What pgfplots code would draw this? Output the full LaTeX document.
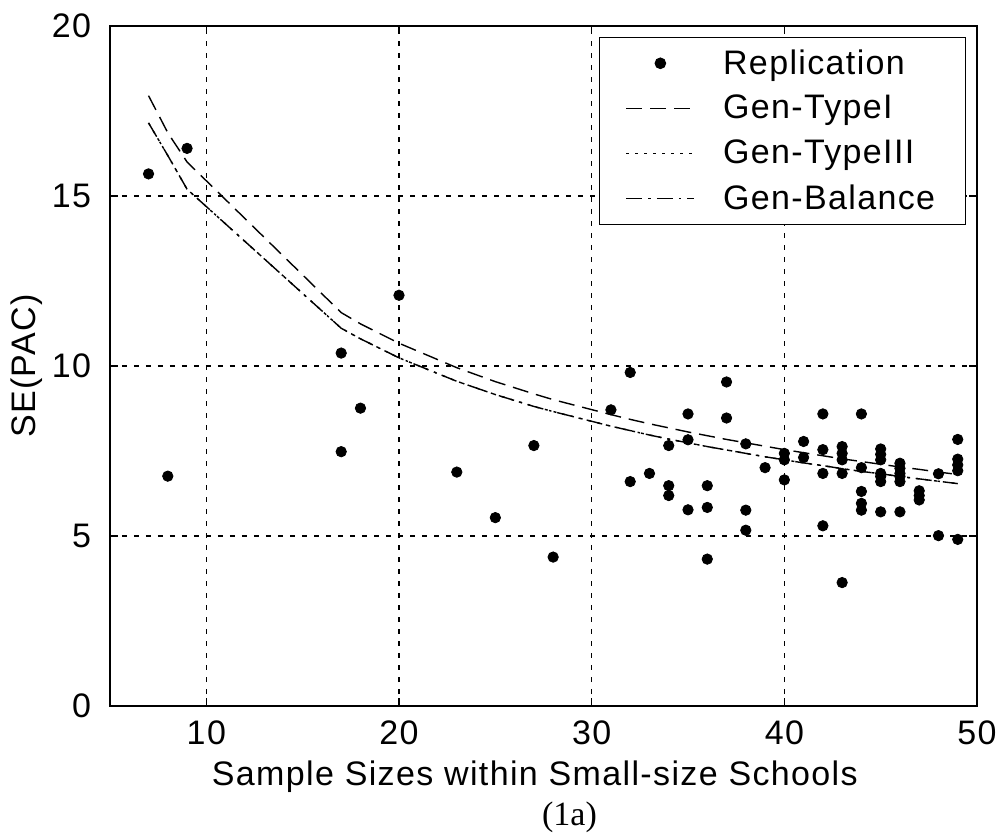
\documentclass[border=0pt]{standalone}
\usepackage{fontspec}
\setmainfont[LetterSpace=4]{Liberation Sans}
\newfontfamily\serifcap{Liberation Serif}
\usepackage{pgfplots}
\pgfplotsset{compat=1.18}
\pgfplotsset{
  dotlegend/.style={legend image code/.code={\draw[##1] plot coordinates {(17pt,0pt)};}},
  linelegend/.style={legend image code/.code={\draw[##1] (0pt,0pt) -- (34pt,0pt);}},
}
\begin{document}
\begin{tikzpicture}
\path[use as bounding box] (-55pt,-64pt) rectangle (445pt,353pt);
\begin{axis}[
  scale only axis,
  width=433.5pt, height=340pt,
  xmin=5, xmax=50, ymin=0, ymax=20,
  xtick={10,20,30,40,50}, ytick={0,5,10,15,20},
  clip mode=individual,
  /pgf/number format/assume math mode=true,
  tick label style={font=\fontsize{17}{20}\selectfont},
  label style={font=\fontsize{17}{20}\selectfont},
  xlabel={Sample Sizes within Small-size Schools},
  ylabel={SE(PAC)},
  xlabel style={at={(axis description cs:0.49,0)},anchor=north,yshift=-24pt},
  ylabel style={at={(axis description cs:0,0.5)},anchor=south,xshift=0pt,yshift=30pt},
  yticklabel style={xshift=-6pt},
  xticklabel style={yshift=-4pt},
  axis line style={line width=0.8pt},
  tick align=inside,
  major tick length=4pt,
  tick style={black,line width=0.6pt},
  grid=major,
  major grid style={black,line width=0.6pt,dash pattern=on 2.5pt off 3.5pt},
  legend cell align=left,
  legend style={at={(0.987,0.984)},anchor=north east,
    font=\fontsize{17}{20}\selectfont,
    draw=black,line width=0.6pt,
    inner xsep=13pt,inner ysep=4pt,
    row sep=5pt,
    /tikz/every odd column/.append style={column sep=12pt}},
]
\addplot[only marks,mark=*,mark size=2.6pt,black,dotlegend]
coordinates {
(7,15.65) (9,16.40) (20,12.08) (17,10.38) (18,8.76) (17,7.48) (8,6.76)
(32,9.81) (37,9.53) (31,8.71) (35,8.59) (37,8.47) (34,7.66) (35,7.83)
(27,7.66) (23,6.88) (33,6.84) (32,6.60) (34,6.48) (34,6.19) (36,6.48)
(35,5.77) (36,5.84) (25,5.54) (28,4.38) (36,4.32)
(38,7.71) (38,5.76) (38,5.17) (39,7.01) (40,7.43) (40,7.24) (40,6.65)
(41,7.78) (41,7.31) (42,8.59) (42,7.54) (42,6.84) (42,5.30)
(43,7.63) (43,7.43) (43,7.24) (43,6.84) (43,3.63)
(44,8.59) (44,7.01) (44,6.31) (44,5.96) (44,5.76)
(45,7.56) (45,7.40) (45,7.24) (45,6.84) (45,6.75) (45,6.60) (45,5.71)
(46,7.14) (46,6.99) (46,6.84) (46,6.75) (46,6.60) (46,5.71)
(47,6.33) (47,6.19) (47,6.06) (48,6.83) (48,5.01)
(49,7.84) (49,7.26) (49,7.09) (49,6.92) (49,4.90)
};
\addlegendentry{Replication}
\addplot[black,line width=0.7pt,dash pattern=on 8pt off 4pt,linelegend]
coordinates {
(7,17.95) (8,16.86) (9,16.00) (17,11.57) (18,11.24) (20,10.67) (23,9.95)
(25,9.54) (27,9.18) (28,9.01) (31,8.57) (32,8.43) (33,8.30) (34,8.18)
(35,8.06) (36,7.95) (37,7.84) (38,7.74) (39,7.64) (40,7.54) (41,7.45)
(42,7.36) (43,7.27) (44,7.19) (45,7.11) (46,7.03) (47,6.96) (48,6.88) (49,6.81)
};
\addlegendentry{Gen-TypeI}
\addplot[black,line width=0.7pt,dash pattern=on 1.5pt off 3pt,linelegend]
coordinates {
(7,17.15) (8,16.19) (9,15.20) (17,11.11) (18,10.80) (20,10.24) (23,9.55)
(25,9.16) (27,8.81) (28,8.66) (31,8.23) (32,8.10) (33,7.97) (34,7.85)
(35,7.74) (36,7.63) (37,7.53) (38,7.43) (39,7.33) (40,7.24) (41,7.15)
(42,7.07) (43,6.98) (44,6.90) (45,6.83) (46,6.75) (47,6.68) (48,6.61) (49,6.54)
};
\addlegendentry{Gen-TypeIII}
\addplot[black,line width=0.7pt,dash pattern=on 8pt off 3pt on 1.2pt off 3pt,linelegend]
coordinates {
(7,17.15) (8,16.19) (9,15.20) (17,11.11) (18,10.80) (20,10.24) (23,9.55)
(25,9.16) (27,8.81) (28,8.66) (31,8.23) (32,8.10) (33,7.97) (34,7.85)
(35,7.74) (36,7.63) (37,7.53) (38,7.43) (39,7.33) (40,7.24) (41,7.15)
(42,7.07) (43,6.98) (44,6.90) (45,6.83) (46,6.75) (47,6.68) (48,6.61) (49,6.54)
};
\addlegendentry{Gen-Balance}
\node[font=\serifcap\fontsize{17}{20}\selectfont,anchor=center] at (axis description cs:0.53,-0.164) {(1a)};
\end{axis}
\end{tikzpicture}
\end{document}
